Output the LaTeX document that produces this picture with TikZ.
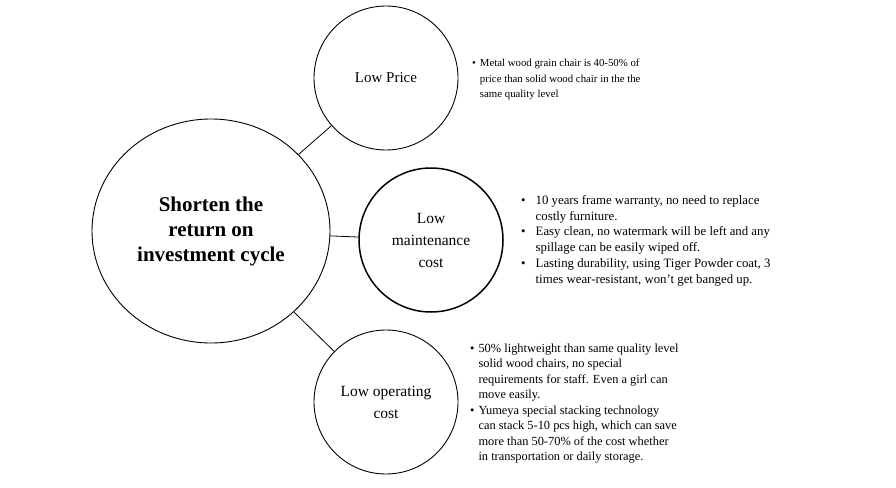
\documentclass[tikz,border=0pt]{standalone}
\usepackage{fontspec}
\setmainfont{Liberation Serif}
\usetikzlibrary{shapes.geometric}
\begin{document}
\begin{tikzpicture}[x=1pt,y=-1pt,
  sub/.style={circle,draw,line width=0.9pt,minimum size=144pt,inner sep=0pt,align=center,font=\fontsize{15}{17}\selectfont},
  note/.style={anchor=north west,inner sep=0pt},
  link/.style={draw,line width=0.8pt}]
\useasboundingbox (0,0) rectangle (896,487);
\node[ellipse,draw,line width=0.9pt,minimum width=238pt,minimum height=224pt,inner sep=0pt,align=center,font=\bfseries\fontsize{21}{25}\selectfont] (main) at (211,231) {Shorten the\\return on\\investment cycle};
\node[sub] (p) at (386,78) {Low Price};
\node[sub,line width=1.5pt,font=\fontsize{15.5}{22}\selectfont] (m) at (431,240) {Low\\maintenance\\cost};
\node[sub,font=\fontsize{15.5}{22}\selectfont] (o) at (386,402) {Low operating\\cost};
\path[link] (main) -- (p);
\path[link] (main) -- (m);
\path[link] (main) -- (o);
\node[note,font=\fontsize{10.8}{15.4}\selectfont] (tp) at (472,56) {\begin{tabular}{@{}l@{\hspace{4pt}}l@{}}
\textbullet & Metal wood grain chair is 40-50\% of\\
 & price than solid wood chair in the the\\
 & same quality level\end{tabular}};
\node[note,font=\fontsize{12.8}{15.8}\selectfont] (tm) at (521,193) {\begin{tabular}{@{}l@{\hspace{10pt}}l@{}}
\textbullet & 10 years frame warranty, no need to replace\\
 & costly furniture.\\
\textbullet & Easy clean, no watermark will be left and any\\
 & spillage can be easily wiped off.\\
\textbullet & Lasting durability, using Tiger Powder coat, 3\\
 & times wear-resistant, won't get banged up.\end{tabular}};
\node[note,font=\fontsize{12.4}{15.5}\selectfont] (to) at (470,341) {\begin{tabular}{@{}l@{\hspace{4pt}}l@{}}
\textbullet & 50\% lightweight than same quality level\\
 & solid wood chairs, no special\\
 & requirements for staff. Even a girl can\\
 & move easily.\\
\textbullet & Yumeya special stacking technology\\
 & can stack 5-10 pcs high, which can save\\
 & more than 50-70\% of the cost whether\\
 & in transportation or daily storage.\end{tabular}};
\end{tikzpicture}
\end{document}
